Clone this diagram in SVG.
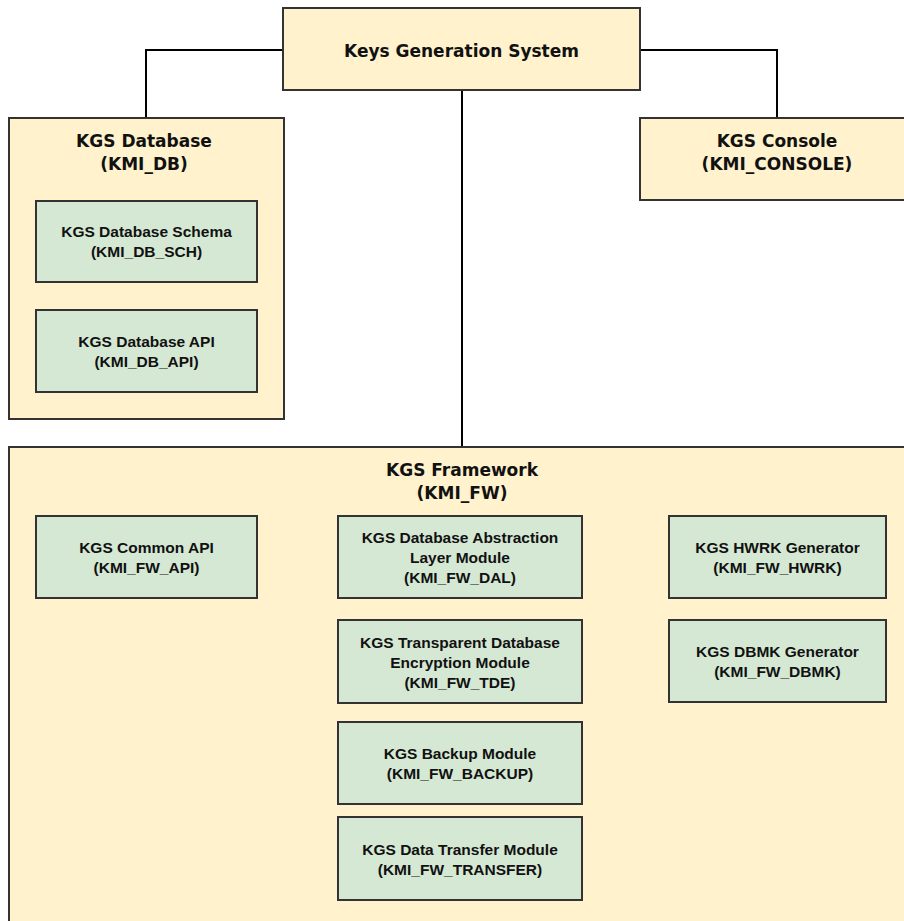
<svg xmlns="http://www.w3.org/2000/svg" width="904" height="921" viewBox="0 0 904 921">
<style>
.c{fill:#FFF2CC;stroke:#333;stroke-width:2}
.g{fill:#D5E8D4;stroke:#333;stroke-width:2}
.t{font-family:"DejaVu Sans",sans-serif;font-weight:bold;font-size:17px;fill:#111;text-anchor:middle}
.s{font-family:"Liberation Sans",Arial,sans-serif;font-weight:bold;font-size:15.5px;fill:#111;text-anchor:middle}
.w{fill:none;stroke:#000;stroke-width:2}
</style>
<rect width="904" height="921" fill="#fff"/>
<g id="connectors">
<path class="w" d="M283 50H146V118"/>
<path class="w" d="M640 50H777V118"/>
<path class="w" d="M462 90V447"/>
</g>
<g id="kgs">
<rect class="c" x="283" y="8" width="357" height="82"/>
<text class="t" x="461.5" y="57">Keys Generation System</text>
</g>
<g id="kmi_db">
<rect class="c" x="9" y="118" width="275" height="301"/>
<text class="t" x="144" y="147">KGS Database</text>
<text class="t" x="144" y="170">(KMI_DB)</text>
</g>
<g id="kmi_db_sch">
<rect class="g" x="36" y="201" width="221" height="81"/>
<text class="s" x="146.5" y="237">KGS Database Schema</text>
<text class="s" x="146.5" y="257">(KMI_DB_SCH)</text>
</g>
<g id="kmi_db_api">
<rect class="g" x="36" y="310" width="221" height="82"/>
<text class="s" x="146.5" y="347">KGS Database API</text>
<text class="s" x="146.5" y="367">(KMI_DB_API)</text>
</g>
<g id="kmi_console">
<rect class="c" x="640" y="118" width="275" height="82"/>
<text class="t" x="777" y="147">KGS Console</text>
<text class="t" x="777" y="170">(KMI_CONSOLE)</text>
</g>
<g id="kmi_fw">
<rect class="c" x="9" y="447" width="906" height="494"/>
<text class="t" x="462" y="476">KGS Framework</text>
<text class="t" x="462" y="499">(KMI_FW)</text>
</g>
<g id="kmi_fw_api">
<rect class="g" x="36" y="516" width="221" height="82"/>
<text class="s" x="146.5" y="553">KGS Common API</text>
<text class="s" x="146.5" y="573">(KMI_FW_API)</text>
</g>
<g id="kmi_fw_dal">
<rect class="g" x="338" y="516" width="244" height="82"/>
<text class="s" x="460" y="543">KGS Database Abstraction</text>
<text class="s" x="460" y="563">Layer Module</text>
<text class="s" x="460" y="583">(KMI_FW_DAL)</text>
</g>
<g id="kmi_fw_tde">
<rect class="g" x="338" y="620" width="244" height="83"/>
<text class="s" x="460" y="648">KGS Transparent Database</text>
<text class="s" x="460" y="668">Encryption Module</text>
<text class="s" x="460" y="688">(KMI_FW_TDE)</text>
</g>
<g id="kmi_fw_backup">
<rect class="g" x="338" y="722" width="244" height="82"/>
<text class="s" x="460" y="759">KGS Backup Module</text>
<text class="s" x="460" y="779">(KMI_FW_BACKUP)</text>
</g>
<g id="kmi_fw_transfer">
<rect class="g" x="338" y="817" width="244" height="83"/>
<text class="s" x="460" y="855">KGS Data Transfer Module</text>
<text class="s" x="460" y="875">(KMI_FW_TRANSFER)</text>
</g>
<g id="kmi_fw_hwrk">
<rect class="g" x="669" y="516" width="217" height="82"/>
<text class="s" x="777.5" y="553">KGS HWRK Generator</text>
<text class="s" x="777.5" y="573">(KMI_FW_HWRK)</text>
</g>
<g id="kmi_fw_dbmk">
<rect class="g" x="669" y="620" width="217" height="82"/>
<text class="s" x="777.5" y="657">KGS DBMK Generator</text>
<text class="s" x="777.5" y="677">(KMI_FW_DBMK)</text>
</g>
</svg>
